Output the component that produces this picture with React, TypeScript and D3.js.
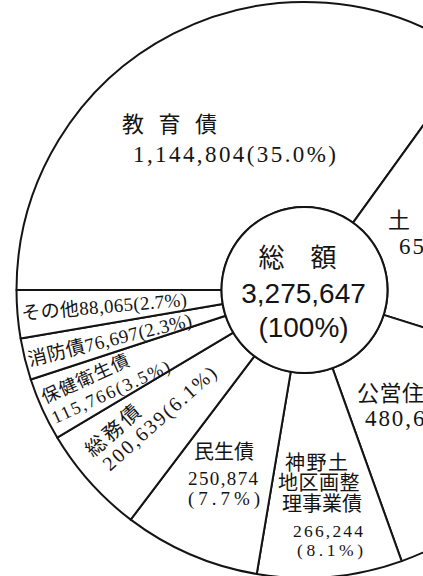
import React from "react";
import * as d3 from "d3";

// ---- data ----
const categories = [
  "教育債",
  "土木債",
  "公営住宅債",
  "神野土地区画整理事業債",
  "民生債",
  "総務債",
  "保健衛生債",
  "消防債",
  "その他",
];
const values = [1144804, 651938, 480620, 266244, 250874, 200639, 115766, 76697, 88065];
const percents = ["35.0", "19.9", "14.7", "8.1", "7.7", "6.1", "3.5", "2.3", "2.7"];
const nameLines = [
  ["教育債"],
  ["土木債"],
  ["公営住宅債"],
  ["神野土", "地区画整", "理事業債"],
  ["民生債"],
  ["総務債"],
  ["保健衛生債"],
  ["消防債"],
  ["その他"],
];
const centerTitle = "総　額";
const centerPct = "(100%)";

// ---- layout / style ----
const W = 423;
const H = 576;
const cx = 304.5;
const cy = 290;
const R = 288;
const R0 = 83;
const INK = "#141414";
const SERIF = '"Liberation Serif","DejaVu Serif","Noto Sans CJK JP",serif';
const SANS_CJK = '"Noto Sans CJK JP","Liberation Sans",sans-serif';
const SANS_NUM = '"Liberation Sans","Noto Sans CJK JP",sans-serif';

type Part = "n0" | "n1" | "n2" | "v" | "p" | "vp" | "nvp";
type Line = { part: Part; x: number; y: number; size: number; ls?: number; len?: number; anchor?: string };
type Lay = { r: number; rotate: boolean; lines: Line[] };

const layout: Lay[] = [
  { r: 170, rotate: false, lines: [
    { part: "n0", x: -105.1, y: -6.2, size: 22, ls: 14.5 },
    { part: "vp", x: -94.1, y: 22.9, size: 23, len: 203 },
  ] },
  { r: 100, rotate: false, lines: [
    { part: "n0", x: -11.4, y: -31, size: 22, ls: 14.5 },
    { part: "vp", x: -0.4, y: -4.5, size: 23, len: 175 },
  ] },
  { r: 150, rotate: false, lines: [
    { part: "n0", x: -55.7, y: 6.6, size: 22, ls: 0.5 },
    { part: "vp", x: -47.7, y: 32.1, size: 23, len: 175 },
  ] },
  { r: 200, rotate: false, lines: [
    { part: "n0", x: -37.2, y: -19.7, size: 20, ls: 1.5 },
    { part: "n1", x: -44.2, y: 0.3, size: 20, ls: 0.5 },
    { part: "n2", x: -40.2, y: 21.3, size: 20 },
    { part: "v", x: 40.8, y: 47.3, size: 17.5, len: 70, anchor: "end" },
    { part: "p", x: 40.8, y: 66.8, size: 17.5, len: 66, anchor: "end" },
  ] },
  { r: 180, rotate: false, lines: [
    { part: "n0", x: -9.2, y: 4.2, size: 20, anchor: "middle" },
    { part: "v", x: -10.2, y: 29.7, size: 19, len: 70, anchor: "middle" },
    { part: "p", x: -9.2, y: 50.2, size: 19, len: 72, anchor: "middle" },
  ] },
  { r: 200, rotate: true, lines: [
    { part: "n0", x: -69.6, y: -15.9, size: 20, ls: 3 },
    { part: "vp", x: -66.1, y: 5.6, size: 20, len: 145 },
  ] },
  { r: 200, rotate: true, lines: [
    { part: "n0", x: -83.4, y: -3.7, size: 18, ls: 1 },
    { part: "vp", x: -82.6, y: 18.6, size: 18, len: 128 },
  ] },
  { r: 200, rotate: true, lines: [
    { part: "nvp", x: -85, y: 8, size: 19, len: 168 },
  ] },
  { r: 200, rotate: true, lines: [
    { part: "nvp", x: -84, y: 6, size: 19, len: 166 },
  ] },
];

const fmt = d3.format(",");

function partText(i: number, part: Part): string {
  const v = fmt(values[i]);
  const p = `(${percents[i]}%)`;
  switch (part) {
    case "n0": return nameLines[i][0];
    case "n1": return nameLines[i][1];
    case "n2": return nameLines[i][2];
    case "v": return v;
    case "p": return p;
    case "vp": return v + p;
    case "nvp": return nameLines[i][0] + v + p;
  }
}

export default function App() {
  const pie = d3
    .pie<number>()
    .sort(null)
    .value((d) => d)
    .startAngle(-Math.PI / 2)
    .endAngle((3 * Math.PI) / 2);
  const arcs = pie(values);
  const arcGen = d3.arc<d3.PieArcDatum<number>>().innerRadius(R0).outerRadius(R);
  const total = d3.sum(values);

  return (
    <svg
      width={W}
      height={H}
      viewBox={`0 0 ${W} ${H}`}
      style={{ position: "absolute", left: 0, top: 0, background: "#fff" }}
    >
      <rect x={0} y={0} width={W} height={H} fill="#fff" />
      <g transform={`translate(${cx},${cy})`}>
        {arcs.map((a, i) => (
          <path
            key={categories[i]}
            d={arcGen(a) || ""}
            fill="#fff"
            stroke={INK}
            strokeWidth={2}
            strokeLinejoin="round"
          />
        ))}
        <circle r={R0} fill="#fff" stroke={INK} strokeWidth={2} />

        {arcs.map((a, i) => {
          const lay = layout[i];
          const mid = (a.startAngle + a.endAngle) / 2;
          const px = lay.r * Math.sin(mid);
          const py = -lay.r * Math.cos(mid);
          const rot = lay.rotate ? (mid * 180) / Math.PI - 270 : 0;
          return (
            <g key={"l" + i} transform={`translate(${px},${py}) rotate(${rot})`}>
              {lay.lines.map((ln, j) => (
                <text
                  key={j}
                  x={ln.x}
                  y={ln.y}
                  fontFamily={SERIF}
                  fontSize={ln.size}
                  fill={INK}
                  textAnchor={ln.anchor || "start"}
                  letterSpacing={ln.ls || 0}
                  {...(ln.len ? { textLength: ln.len, lengthAdjust: "spacing" } : {})}
                >
                  {partText(i, ln.part)}
                </text>
              ))}
            </g>
          );
        })}

        <text x={-7} y={-23} fontFamily={SANS_CJK} fontSize={26} fill={INK} textAnchor="middle">
          {centerTitle}
        </text>
        <text x={-1} y={13} fontFamily={SANS_NUM} fontSize={28} fill={INK} textAnchor="middle">
          {fmt(total)}
        </text>
        <text x={-1} y={47} fontFamily={SANS_NUM} fontSize={28} fill={INK} textAnchor="middle">
          {centerPct}
        </text>
      </g>
    </svg>
  );
}
